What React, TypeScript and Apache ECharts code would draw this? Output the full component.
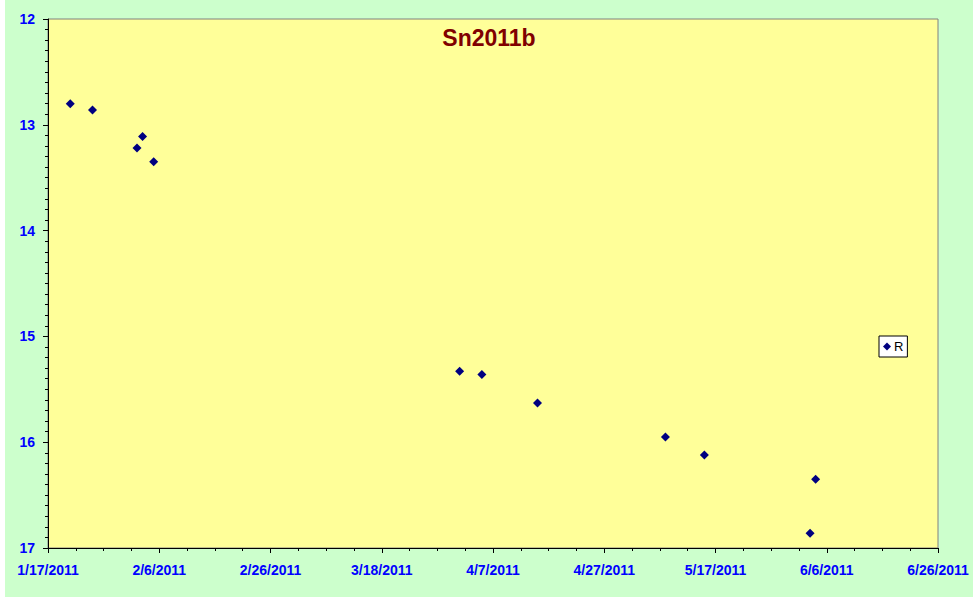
import React, { useEffect, useRef } from "react";
import * as echarts from "echarts";

const chartTitle = "Sn2011b";
const seriesName = "R";
const startDate = "2011-01-17";
const obsDates = [
  "2011-01-21", "2011-01-25", "2011-02-02", "2011-02-03", "2011-02-05",
  "2011-04-01", "2011-04-05", "2011-04-15", "2011-05-08", "2011-05-15",
  "2011-06-03", "2011-06-04",
];
const rMag = [12.8, 12.86, 13.22, 13.11, 13.35, 15.33, 15.36, 15.63, 15.95, 16.12, 16.86, 16.35];
const xRangeDays = [0, 160];
const xStepDays = 20;
const yRange = [12, 17];

const DAY = 86400000;
const t0 = Date.parse(startDate + "T00:00:00Z");

export default function App() {
  const ref = useRef<HTMLDivElement>(null);
  useEffect(() => {
    if (!ref.current) return;
    const chart = echarts.init(ref.current, undefined, { renderer: "svg" });
    const data = obsDates.map((d, i) => [
      (Date.parse(d + "T00:00:00Z") - t0) / DAY,
      rMag[i],
    ]);
    const labelStyle = {
      color: "#0000FF",
      fontFamily: "Arial, 'Liberation Sans', sans-serif",
      fontWeight: "bold" as const,
      fontSize: 14,
    };
    chart.setOption({
      animation: false,
      backgroundColor: "#CCFFCC",
      title: {
        text: chartTitle,
        left: "center",
        top: 26,
        padding: 0,
        textStyle: {
          color: "#800000",
          fontFamily: "Arial, 'Liberation Sans', sans-serif",
          fontWeight: "bold",
          fontSize: 23,
        },
      },
      legend: {
        show: true,
        left: 874,
        top: 336,
        orient: "vertical",
        padding: [4, 4],
        itemWidth: 8,
        itemHeight: 8,
        itemGap: 0,
        backgroundColor: "#FFFFFF",
        borderColor: "#000000",
        borderWidth: 1,
        borderRadius: 0,
        icon: "diamond",
        itemStyle: { opacity: 1 },
        textStyle: {
          color: "#000000",
          fontFamily: "Arial, 'Liberation Sans', sans-serif",
          fontSize: 13,
          padding: [0, 0, 0, -2],
        },
        data: [seriesName],
      },
      grid: {
        show: true,
        left: 43,
        top: 19,
        width: 890,
        height: 529,
        backgroundColor: "#FFFF99",
        borderColor: "#808080",
        borderWidth: 1,
      },
      xAxis: {
        type: "value",
        min: xRangeDays[0],
        max: xRangeDays[1],
        interval: xStepDays,
        axisLine: { show: true, onZero: false, lineStyle: { color: "#000000", width: 1 } },
        axisTick: { show: true, inside: false, length: 5, lineStyle: { color: "#000000" } },
        minorTick: { show: true, splitNumber: 4, length: 3, lineStyle: { color: "#000000" } },
        splitLine: { show: false },
        axisLabel: {
          ...labelStyle,
          margin: 15,
          formatter: (v: number) => {
            const d = new Date(t0 + v * DAY);
            return `${d.getUTCMonth() + 1}/${d.getUTCDate()}/${d.getUTCFullYear()}`;
          },
        },
      },
      yAxis: {
        type: "value",
        inverse: true,
        min: yRange[0],
        max: yRange[1],
        interval: 1,
        axisLine: { show: true, onZero: false, lineStyle: { color: "#000000", width: 1 } },
        axisTick: { show: true, inside: false, length: 5, lineStyle: { color: "#000000" } },
        minorTick: { show: true, splitNumber: 10, length: 3, lineStyle: { color: "#000000" } },
        splitLine: { show: false },
        axisLabel: { ...labelStyle, margin: 13 },
      },
      series: [
        {
          name: seriesName,
          type: "scatter",
          symbol: "diamond",
          symbolSize: 9,
          itemStyle: { color: "#000080", opacity: 1 },
          data,
        },
      ],
    });
    return () => chart.dispose();
  }, []);
  return (
    <div style={{ position: "fixed", left: 0, top: 0, width: 978, height: 601, background: "#FFFFFF" }}>
      <div ref={ref} style={{ position: "absolute", left: 5, top: 0, width: 968, height: 597 }} />
    </div>
  );
}
